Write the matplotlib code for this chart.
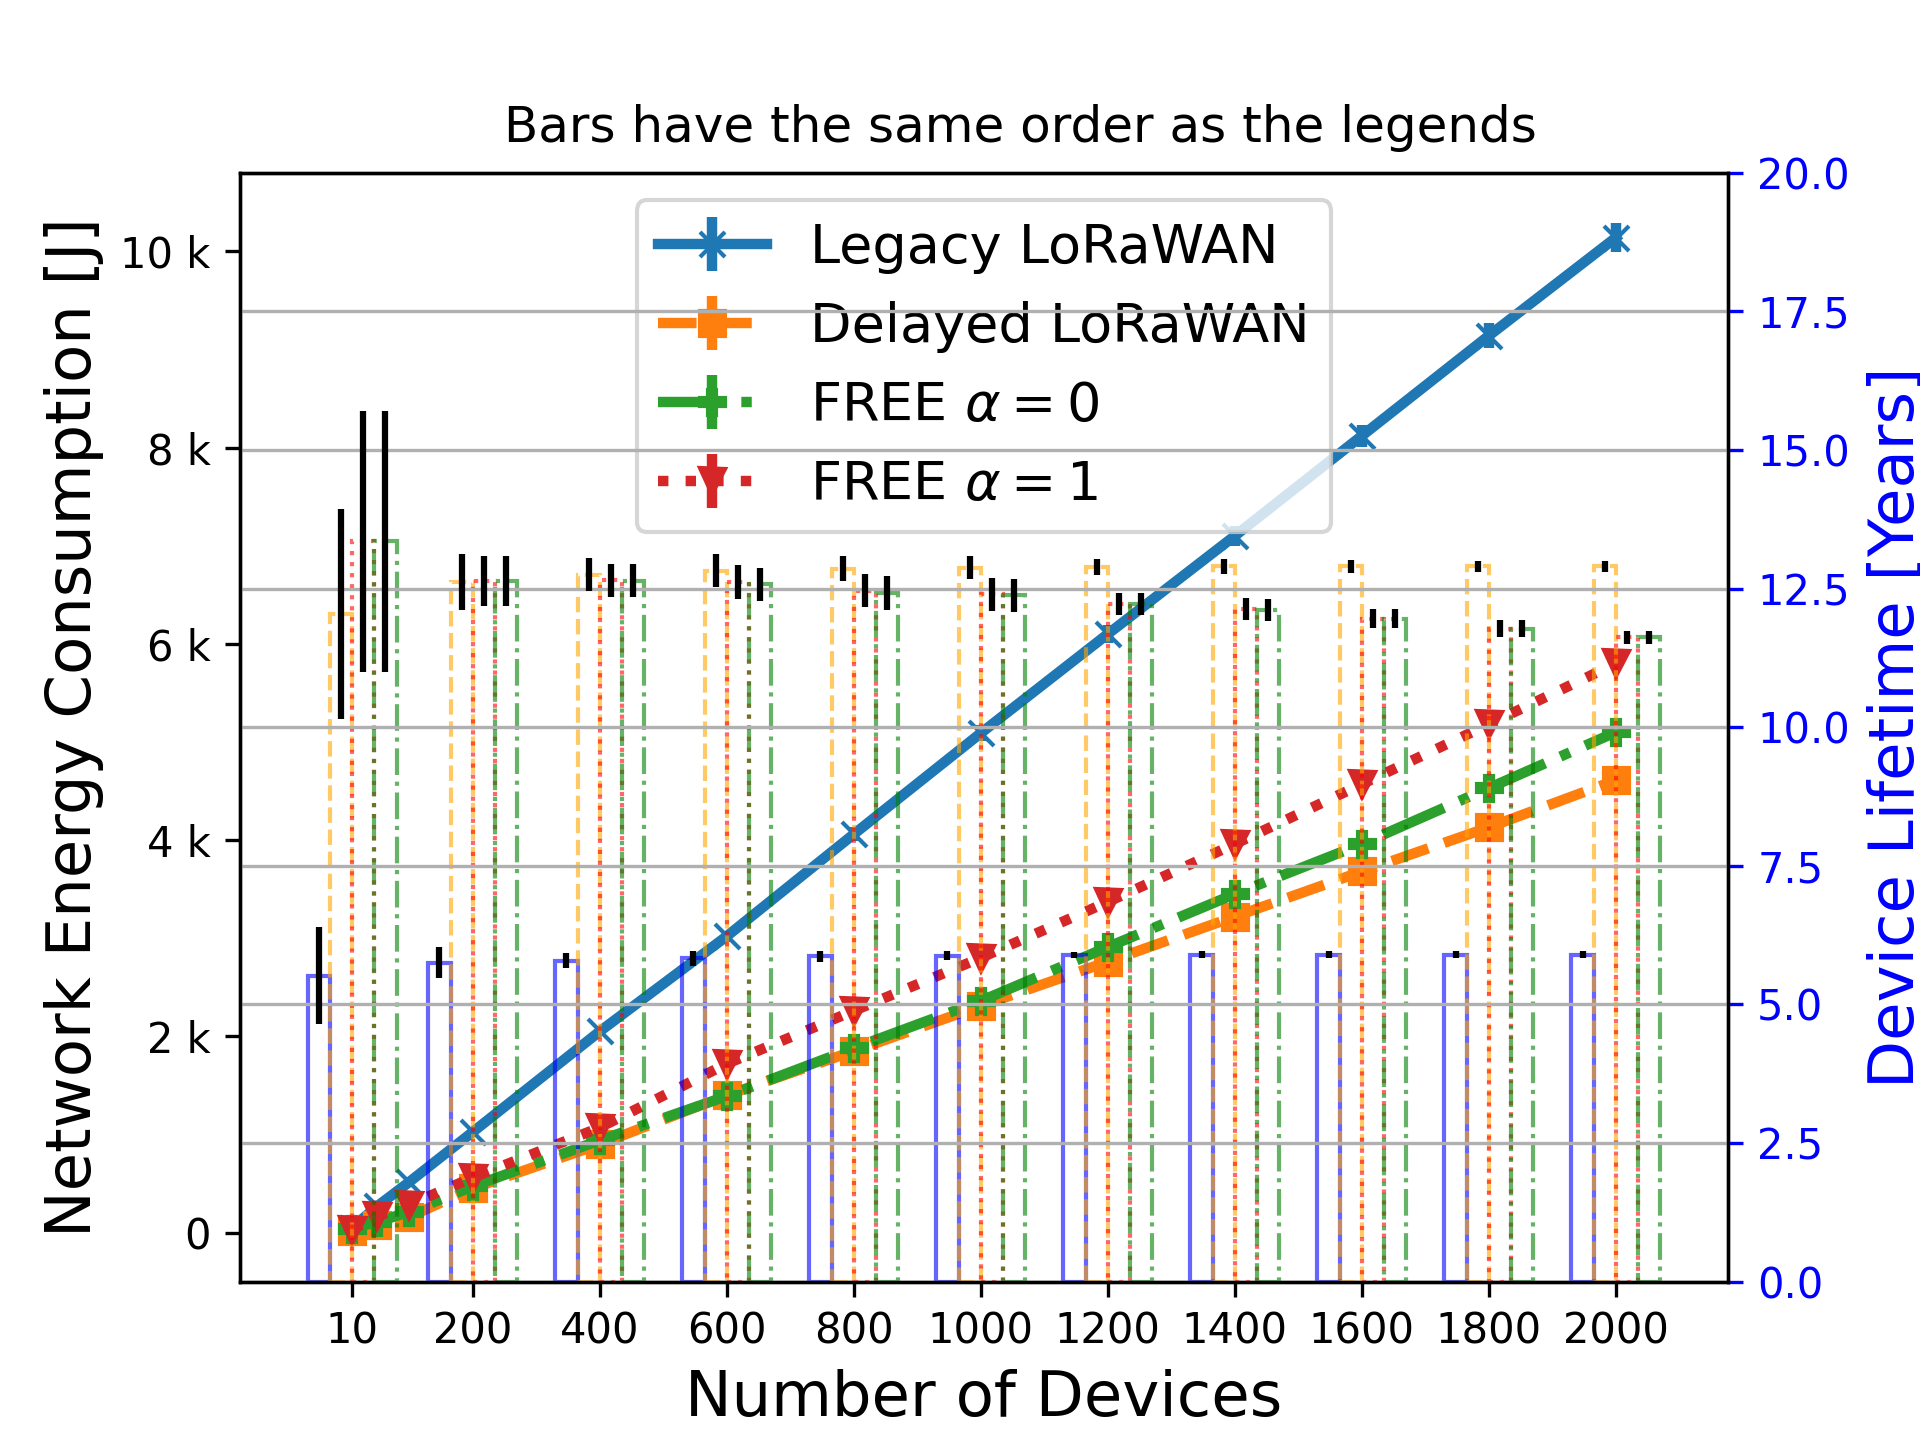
import numpy as np
import matplotlib
matplotlib.use("Agg")
from matplotlib import pyplot as plt
from matplotlib.ticker import EngFormatter

# line data (left axis, energy in J)
n_devices = [10, 50, 100, 200, 400, 600, 800, 1000, 1200, 1400, 1600, 1800, 2000]
legacy_energy = [51, 270, 515, 1025, 2050, 3020, 4060, 5090, 6100, 7100, 8120, 9140, 10140]
legacy_energy_err = [15, 20, 25, 35, 45, 55, 70, 80, 90, 100, 110, 125, 150]
delayed_energy = [20, 80, 160, 450, 900, 1400, 1850, 2310, 2760, 3220, 3680, 4130, 4610]
delayed_energy_err = [5, 8, 10, 15, 20, 25, 30, 35, 40, 45, 50, 55, 60]
free0_energy = [40, 110, 210, 470, 940, 1390, 1880, 2360, 2910, 3450, 3960, 4530, 5100]
free0_energy_err = [5, 8, 10, 15, 20, 25, 30, 35, 40, 45, 50, 55, 60]
free1_energy = [30, 166, 285, 560, 1070, 1720, 2260, 2800, 3370, 3960, 4570, 5180, 5800]
free1_energy_err = [5, 8, 10, 15, 20, 25, 30, 35, 40, 45, 50, 55, 60]

# bar data (right axis, lifetime in years)
bar_groups = [10, 200, 400, 600, 800, 1000, 1200, 1400, 1600, 1800, 2000]
legacy_life = [5.52, 5.75, 5.79, 5.83, 5.87, 5.88, 5.89, 5.90, 5.90, 5.90, 5.90]
legacy_life_err = [0.88, 0.28, 0.13, 0.13, 0.10, 0.08, 0.06, 0.06, 0.06, 0.06, 0.06]
delayed_life = [12.04, 12.62, 12.75, 12.82, 12.86, 12.88, 12.89, 12.90, 12.90, 12.90, 12.90]
delayed_life_err = [1.9, 0.5, 0.3, 0.3, 0.22, 0.2, 0.15, 0.13, 0.12, 0.1, 0.1]
free1_life = [13.35, 12.64, 12.65, 12.62, 12.46, 12.40, 12.22, 12.13, 11.96, 11.78, 11.62]
free1_life_err = [2.36, 0.45, 0.3, 0.3, 0.3, 0.3, 0.2, 0.2, 0.17, 0.15, 0.12]
free0_life = [13.35, 12.64, 12.64, 12.58, 12.42, 12.38, 12.22, 12.12, 11.96, 11.78, 11.62]
free0_life_err = [2.36, 0.45, 0.3, 0.3, 0.3, 0.3, 0.2, 0.2, 0.17, 0.15, 0.12]

bar_width = 35

fig, ax1 = plt.subplots(figsize=(6.4, 4.8), dpi=300)
ax2 = ax1.twinx()

lw = 2.5
ax1.errorbar(n_devices, legacy_energy, yerr=legacy_energy_err, color="C0", marker="x",
             linestyle="-", linewidth=lw, label="Legacy LoRaWAN")
ax1.errorbar(n_devices, delayed_energy, yerr=delayed_energy_err, color="C1", marker="s",
             linestyle="--", linewidth=lw, label="Delayed LoRaWAN")
ax1.errorbar(n_devices, free0_energy, yerr=free0_energy_err, color="C2", marker="P",
             linestyle="-.", linewidth=lw, label=r"FREE $\alpha=0$")
ax1.errorbar(n_devices, free1_energy, yerr=free1_energy_err, color="C3", marker="v",
             linestyle=":", linewidth=lw, label=r"FREE $\alpha=1$")

x = np.array(bar_groups)
bars = [
    (legacy_life, legacy_life_err, "blue", "-"),
    (delayed_life, delayed_life_err, "orange", "--"),
    (free1_life, free1_life_err, "red", ":"),
    (free0_life, free0_life_err, "green", "-."),
]
for i, (vals, errs, col, ls) in enumerate(bars):
    ax2.bar(x + (i - 2) * bar_width, vals, width=bar_width, align="edge", yerr=errs,
            fill=False, edgecolor=col, alpha=0.6, linestyle=ls, linewidth=1.0,
            error_kw=dict(ecolor="black", elinewidth=1.5, alpha=1.0))

ax1.set_xlim(-166.5, 2176.5)
ax1.set_ylim(-500, 10800)
ax2.set_ylim(0, 20)
ax1.set_xticks(bar_groups)
ax1.yaxis.set_major_formatter(EngFormatter())

ax1.set_xlabel("Number of Devices", fontsize=15)
ax1.set_ylabel("Network Energy Consumption [J]", fontsize=15)
ax2.set_ylabel("Device Lifetime [Years]", fontsize=15, color="blue")
ax2.tick_params(axis="y", colors="blue")
ax2.grid(True)

ax1.legend(loc="upper center", fontsize=13)
ax1.set_title("Bars have the same order as the legends", x=0.5245, pad=7.5)

plt.savefig("out.png", dpi=300)
